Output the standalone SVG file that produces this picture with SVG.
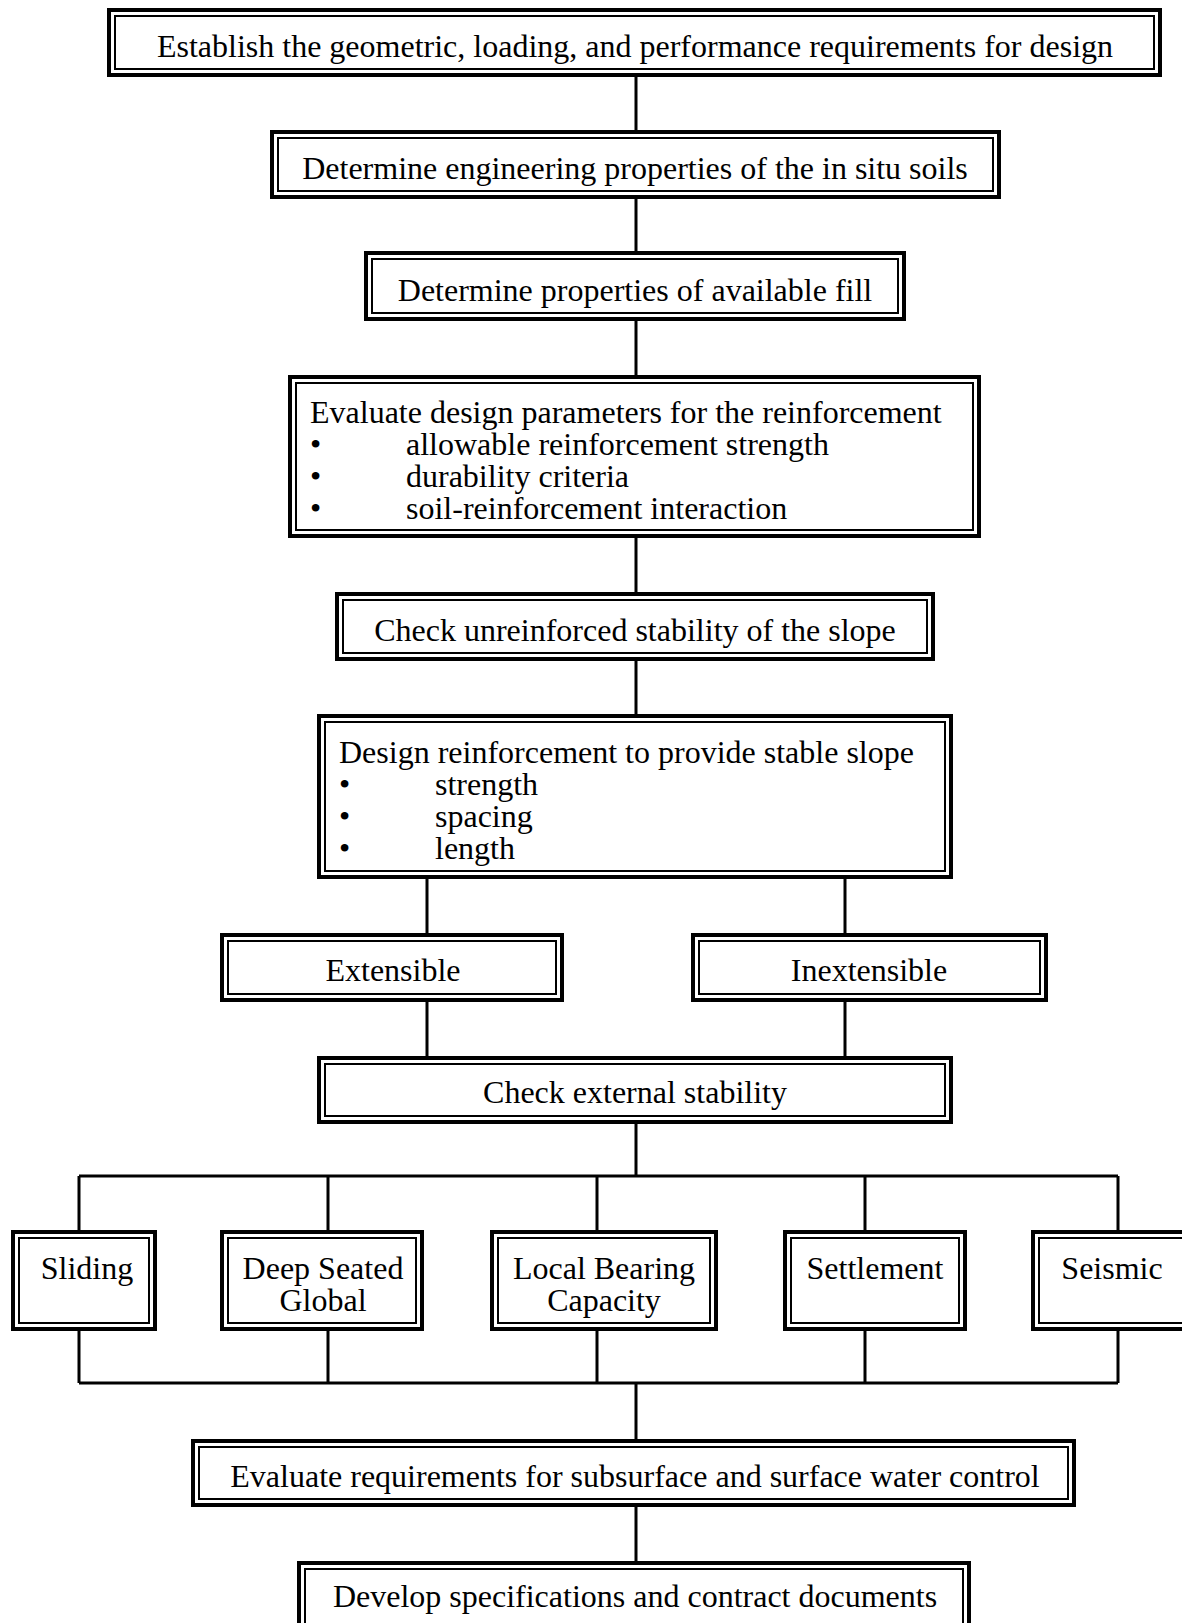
<svg xmlns="http://www.w3.org/2000/svg" width="1182" height="1623" viewBox="0 0 1182 1623">
<style>
.o{fill:#fff;stroke:#000;stroke-width:4}
.i{fill:none;stroke:#000;stroke-width:2}
.c{fill:none;stroke:#000;stroke-width:3}
text{font-family:"Liberation Serif","Times New Roman",serif;font-size:32px;fill:#000}
.m{text-anchor:middle}
</style>
<rect width="1182" height="1623" fill="#fff"/>
<g id="connectors">
<path class="c" d="M636 77V130M636 199V251M636 321V375M636 538V592M636 661V714"/>
<path class="c" d="M427 879V933M845 879V933M427 1002V1056M845 1002V1056"/>
<path class="c" d="M636 1124V1176M79 1176H1118M79 1176V1230M328 1176V1230M597 1176V1230M865 1176V1230M1118 1176V1230"/>
<path class="c" d="M79 1331V1383M328 1331V1383M597 1331V1383M865 1331V1383M1118 1331V1383M79 1383H1118M636 1383V1439M636 1507V1561"/>
</g>
<g id="n1"><rect class="o" x="109" y="10" width="1051" height="65"/><rect class="i" x="115" y="16" width="1039" height="53"/>
<text class="m" x="635" y="57">Establish the geometric, loading, and performance requirements for design</text></g>
<g id="n2"><rect class="o" x="272" y="132" width="727" height="65"/><rect class="i" x="278" y="138" width="715" height="53"/>
<text class="m" x="635" y="179">Determine engineering properties of the in situ soils</text></g>
<g id="n3"><rect class="o" x="366" y="253" width="538" height="66"/><rect class="i" x="372" y="259" width="526" height="54"/>
<text class="m" x="635" y="301">Determine properties of available fill</text></g>
<g id="n4"><rect class="o" x="290" y="377" width="689" height="159"/><rect class="i" x="296" y="383" width="677" height="147"/>
<text x="310" y="423">Evaluate design parameters for the reinforcement</text>
<text x="310" y="455">•</text><text x="406" y="455">allowable reinforcement strength</text>
<text x="310" y="487">•</text><text x="406" y="487">durability criteria</text>
<text x="310" y="519">•</text><text x="406" y="519">soil-reinforcement interaction</text></g>
<g id="n5"><rect class="o" x="337" y="594" width="596" height="65"/><rect class="i" x="343" y="600" width="584" height="53"/>
<text class="m" x="635" y="641">Check unreinforced stability of the slope</text></g>
<g id="n6"><rect class="o" x="319" y="716" width="632" height="161"/><rect class="i" x="325" y="722" width="620" height="149"/>
<text x="339" y="763">Design reinforcement to provide stable slope</text>
<text x="339" y="795">•</text><text x="435" y="795">strength</text>
<text x="339" y="827">•</text><text x="435" y="827">spacing</text>
<text x="339" y="859">•</text><text x="435" y="859">length</text></g>
<g id="n7"><rect class="o" x="222" y="935" width="340" height="65"/><rect class="i" x="228" y="941" width="328" height="53"/>
<text class="m" x="393" y="981">Extensible</text></g>
<g id="n8"><rect class="o" x="693" y="935" width="353" height="65"/><rect class="i" x="699" y="941" width="341" height="53"/>
<text class="m" x="869" y="981">Inextensible</text></g>
<g id="n9"><rect class="o" x="319" y="1058" width="632" height="64"/><rect class="i" x="325" y="1064" width="620" height="52"/>
<text class="m" x="635" y="1103">Check external stability</text></g>
<g id="n10"><rect class="o" x="13" y="1232" width="142" height="97"/><rect class="i" x="19" y="1238" width="130" height="85"/>
<text class="m" x="87" y="1279">Sliding</text></g>
<g id="n11"><rect class="o" x="222" y="1232" width="200" height="97"/><rect class="i" x="228" y="1238" width="188" height="85"/>
<text class="m" x="323" y="1279">Deep Seated</text><text class="m" x="323" y="1311">Global</text></g>
<g id="n12"><rect class="o" x="492" y="1232" width="224" height="97"/><rect class="i" x="498" y="1238" width="212" height="85"/>
<text class="m" x="604" y="1279">Local Bearing</text><text class="m" x="604" y="1311">Capacity</text></g>
<g id="n13"><rect class="o" x="785" y="1232" width="180" height="97"/><rect class="i" x="791" y="1238" width="168" height="85"/>
<text class="m" x="875" y="1279">Settlement</text></g>
<g id="n14"><rect class="o" x="1033" y="1232" width="160" height="97"/><rect class="i" x="1039" y="1238" width="148" height="85"/>
<text class="m" x="1112" y="1279">Seismic</text></g>
<g id="n15"><rect class="o" x="193" y="1441" width="881" height="64"/><rect class="i" x="199" y="1447" width="869" height="52"/>
<text class="m" x="635" y="1487">Evaluate requirements for subsurface and surface water control</text></g>
<g id="n16"><rect class="o" x="299" y="1563" width="670" height="80"/><rect class="i" x="305" y="1569" width="658" height="68"/>
<text class="m" x="635" y="1607">Develop specifications and contract documents</text></g>
</svg>
